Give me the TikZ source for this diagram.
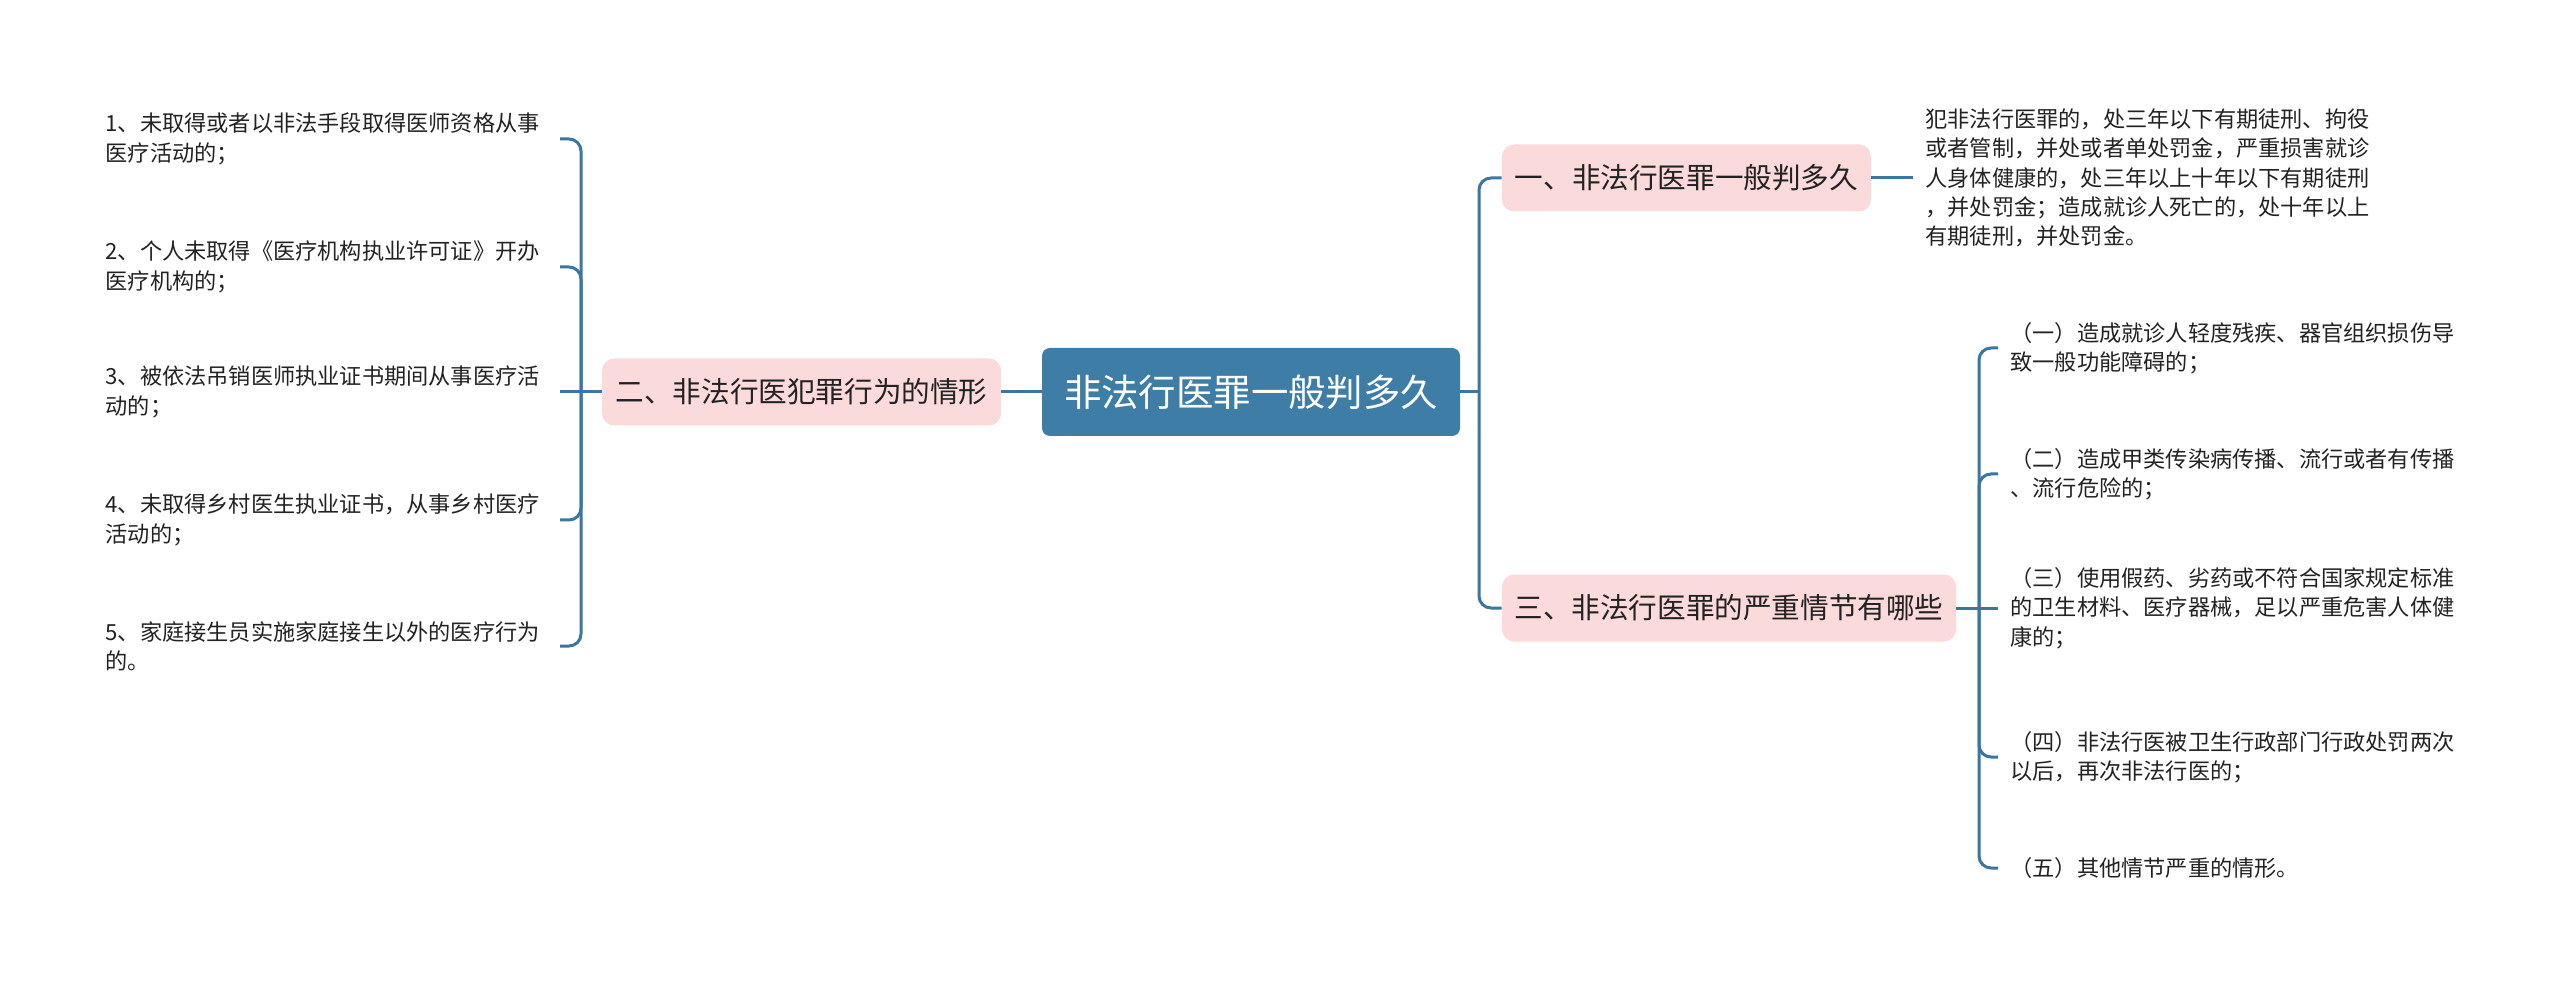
\documentclass[tikz,border=0pt]{standalone}
\usepackage{fontspec}
\newfontfamily\cjk{Noto Sans CJK SC}
\definecolor{rootblue}{RGB}{62,125,166}
\definecolor{linkblue}{RGB}{58,118,160}
\definecolor{pinkbox}{RGB}{251,218,219}
\definecolor{txt}{RGB}{34,34,34}
\begin{document}
\begin{tikzpicture}[x=0.5pt,y=-0.5pt,
  conn/.style={draw=linkblue,line width=1.5pt},
  elbow/.style={conn,rounded corners=6pt},
  rootnode/.style={fill=rootblue,rounded corners=4pt,text=white,font=\cjk\fontsize{18.7}{22}\selectfont,minimum width=209pt,minimum height=44pt,inner sep=0pt},
  topic/.style={fill=pinkbox,rounded corners=6pt,text=txt,font=\cjk\fontsize{14.3}{17}\selectfont,minimum height=33.5pt,inner sep=0pt},
  leaftext/.style={align=left,inner xsep=6pt,inner ysep=0pt,text=txt,font=\cjk\fontsize{11.1}{14.65}\selectfont},
  leafL/.style={leaftext,anchor=east,text width=221pt},
  leafR/.style={leaftext,anchor=west,text width=224pt}
]
\useasboundingbox (0,0) rectangle (2560,989);

% root and topics
\node[rootnode] (root) at (1251,392) {非法行医罪一般判多久};
\node[topic,minimum width=199.5pt] (lb) at (801.5,392) {二、非法行医犯罪行为的情形};
\node[topic,minimum width=184.5pt] (r1) at (1686.5,178) {一、非法行医罪一般判多久};
\node[topic,minimum width=227pt] (r2) at (1729,608) {三、非法行医罪的严重情节有哪些};

% left leaves
\node[leafL] (l1) at (560,139) {1、未取得或者以非法手段取得医师资格从事\\医疗活动的；};
\node[leafL] (l2) at (560,267) {2、个人未取得《医疗机构执业许可证》开办\\医疗机构的；};
\node[leafL] (l3) at (560,392) {3、被依法吊销医师执业证书期间从事医疗活\\动的；};
\node[leafL] (l4) at (560,520) {4、未取得乡村医生执业证书，从事乡村医疗\\活动的；};
\node[leafL] (l5) at (560,646) {5、家庭接生员实施家庭接生以外的医疗行为\\的。};

% right leaves
\node[leafR] (t1) at (1913,178) {犯非法行医罪的，处三年以下有期徒刑、拘役\\或者管制，并处或者单处罚金，严重损害就诊\\人身体健康的，处三年以上十年以下有期徒刑\\，并处罚金；造成就诊人死亡的，处十年以上\\有期徒刑，并处罚金。};
\node[leafR] (c1) at (1998,348) {（一）造成就诊人轻度残疾、器官组织损伤导\\致一般功能障碍的；};
\node[leafR] (c2) at (1998,474) {（二）造成甲类传染病传播、流行或者有传播\\、流行危险的；};
\node[leafR] (c3) at (1998,608) {（三）使用假药、劣药或不符合国家规定标准\\的卫生材料、医疗器械，足以严重危害人体健\\康的；};
\node[leafR] (c4) at (1998,757) {（四）非法行医被卫生行政部门行政处罚两次\\以后，再次非法行医的；};
\node[leafR] (c5) at (1998,868) {（五）其他情节严重的情形。};

% junction coordinates
\coordinate (lbr) at (581,392);
\coordinate (rtr) at (1479,392);
\coordinate (rbr) at (1979,608);

% connectors
\draw[conn] (lb.east) -- (root.west);
\draw[conn] (root.east) -- (rtr);
\draw[elbow] (rtr) |- (r1.west);
\draw[elbow] (rtr) |- (r2.west);
\draw[conn] (r1.east) -- (t1.west);
\draw[conn] (r2.east) -- (c3.west);
\draw[elbow] (rbr) |- (c1.west);
\draw[elbow] (rbr) |- (c2.west);
\draw[elbow] (rbr) |- (c4.west);
\draw[elbow] (rbr) |- (c5.west);
\draw[conn] (lb.west) -- (l3.east);
\draw[elbow] (lbr) |- (l1.east);
\draw[elbow] (lbr) |- (l2.east);
\draw[elbow] (lbr) |- (l4.east);
\draw[elbow] (lbr) |- (l5.east);
\end{tikzpicture}
\end{document}
